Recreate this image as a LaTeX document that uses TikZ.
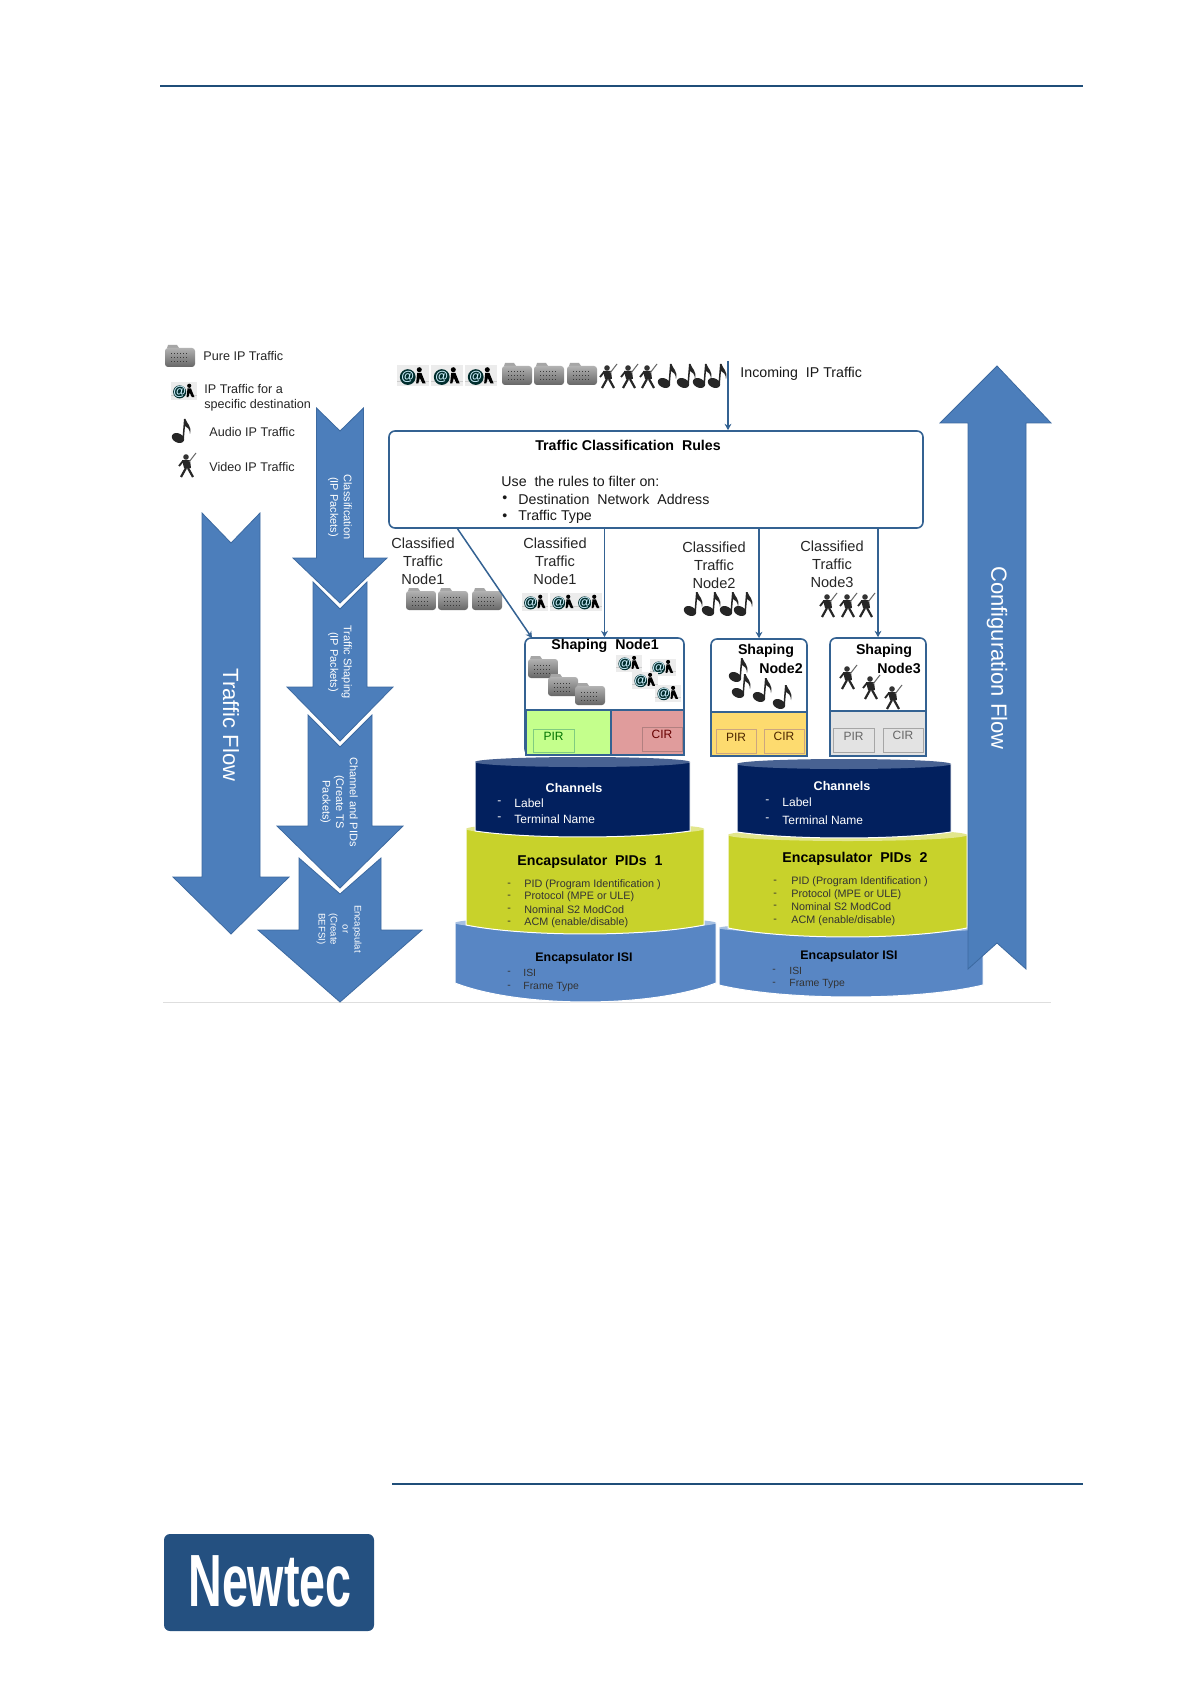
\documentclass[tikz,border=0pt]{standalone}
\usepackage{fontspec}
\setmainfont{Liberation Sans}
\newfontfamily\logofont[FakeStretch=0.63]{Liberation Sans}
\usepackage{xcolor}
\usetikzlibrary{arrows.meta,positioning,fit,calc}
\definecolor{primary}{RGB}{31,78,121}
\definecolor{boxline}{RGB}{52,98,146}
\definecolor{flowblue}{RGB}{76,126,187}
\definecolor{flowedge}{RGB}{60,105,160}
\definecolor{navy}{RGB}{2,32,94}
\definecolor{navycap}{RGB}{72,98,146}
\definecolor{pidgreen}{RGB}{200,210,43}
\definecolor{pidcap}{RGB}{226,230,140}
\definecolor{isiblue}{RGB}{88,134,196}
\definecolor{isicap}{RGB}{166,192,226}
\definecolor{logoblue}{RGB}{36,80,128}
\definecolor{grayline}{RGB}{222,222,222}
\tikzset{
  flowarrow/.style={fill=flowblue, draw=flowedge, line width=0.4pt, line join=miter},
  conn/.style={-{Stealth[length=3.2pt,width=3.4pt]}, color=boxline, line width=0.75pt},
  rulebox/.style={rectangle, rounded corners=3pt, draw=boxline, line width=0.8pt,
                  fill=white, inner sep=0pt},
  ratebox/.style={rectangle, inner sep=0pt, line width=0.3pt,
                  font={\fontsize{6}{7}\selectfont}},
  legendtxt/.style={anchor=west, inner sep=0pt, align=left, text=black!85,
                    font={\fontsize{6.3}{7.4}\selectfont}},
  bodytxt/.style={anchor=west, inner sep=0pt, text=black!90,
                  font={\fontsize{7.1}{9}\selectfont}},
  headtxt/.style={inner sep=0pt, font={\fontsize{7.1}{9}\selectfont\bfseries}},
  classtxt/.style={inner sep=0pt, align=center, text=black!85,
                   font={\fontsize{7.3}{9}\selectfont}},
  flowtxt/.style={inner sep=0pt, rotate=-90, align=center, text=white,
                  font={\fontsize{5.5}{6.8}\selectfont}},
  bigflowtxt/.style={inner sep=0pt, rotate=-90, text=white,
                     font={\fontsize{11}{13}\selectfont}},
  chantxt/.style={anchor=west, inner sep=0pt, text=white, font={\fontsize{6}{7}\selectfont}},
  pidtxt/.style={anchor=west, inner sep=0pt, text=black!80, font={\fontsize{5.4}{6.4}\selectfont}},
  isitxt/.style={anchor=west, inner sep=0pt, text=black!80, font={\fontsize{5.2}{6.4}\selectfont}},
  foldericon/.pic={
    \fill[gray!70] (-13,-8) -- (-12,-11) -- (-3,-11) -- (-1,-8) -- cycle;
    \shade[top color=gray!60, bottom color=gray!80!black, rounded corners=1.5pt]
      (-15,-8) rectangle (15,11);
    \foreach \ly in {-2,2,6}
      \draw[gray!45!black, densely dotted, line width=0.5pt] (-9,\ly) -- (9,\ly);
  },
  ipicon/.pic={
    \fill[gray!15] (-15,-10) rectangle (15,10);
    \draw[gray!40, line width=0.4pt] (-15,5) -- (15,5);
    \fill[black!65!teal] (-5,1) circle (7.5);
    \node[inner sep=0pt, text=white!80!cyan, font={\fontsize{6.5}{7}\selectfont\bfseries}] (atsign) at (-5,1) {@};
    \fill[black] (6,-6) circle (2.4);
    \fill[black] (4,-3) -- (8,-3) -- (12,7) -- (9,7) -- (6.5,2) -- (5,7) -- (3,7) -- cycle;
  },
  noteicon/.pic={
    \fill[black!85, rotate around={-25:(-4,7)}] (-4,7) ellipse (6.5 and 4.6);
    \fill[black!85] (0.5,7) -- (2,-12) -- (3.5,-12) .. controls (5,-7) and (10,-5) .. (8,3)
      .. controls (8,-2) and (5,-4) .. (3,-5) -- (2,7) -- cycle;
  },
  videoicon/.pic={
    \fill[black!80] (-1,-8) circle (2.8);
    \fill[black!85] (-5,-5) -- (3,-5) -- (4,3) -- (-3,3) -- cycle;
    \draw[black!85, line width=1.1pt] (-1,3) -- (-6,12);
    \draw[black!85, line width=1.1pt] (1,3) -- (6,12);
    \draw[black!60, line width=0.5pt] (2,-3) -- (9,-12);
    \draw[black!85, line width=0.9pt] (-4,-4) -- (-8,1);
  },
}
% x, half shaft, half head, top, notch, neck, tip
\newcommand{\flowdown}[7]{
  \draw[flowarrow] ({#1-#2},#4) -- (#1,#5) -- ({#1+#2},#4) -- ({#1+#2},#6) -- ({#1+#3},#6)
    -- (#1,#7) -- ({#1-#3},#6) -- ({#1-#2},#6) -- cycle;
}
% left, right, cap centre, cap radius, side bottom, bulge, side colour, cap colour
\newcommand{\disk}[8]{
  \draw[fill=#7, draw=white, line width=0.5pt] (#1,#3) -- (#1,#5)
    .. controls ({#1+0.25*(#2-#1)},{#5+1.33*#6}) and ({#2-0.25*(#2-#1)},{#5+1.33*#6}) .. (#2,#5)
    -- (#2,#3) -- cycle;
  \fill[#8] ({0.5*(#1+#2)},#3) ellipse ({0.5*(#2-#1)} and #4);
}
\begin{document}
\begin{tikzpicture}[x=0.5pt,y=-0.5pt]
  \useasboundingbox (0,0) rectangle (1190,1684);
  \fill[white] (0,0) rectangle (1190,1684);
  \coordinate (rulestart) at (160,86);
  \coordinate (ruleend) at (1083,86);
  \draw[primary, line width=0.8pt] (rulestart) -- (ruleend);
  \coordinate (footstart) at (392,1484);
  \coordinate (footend) at (1083,1484);
  \draw[primary, line width=0.8pt] (footstart) -- (footend);
  \coordinate (basestart) at (163,1002);
  \coordinate (baseend) at (1051,1002);
  \draw[grayline, line width=0.5pt] (basestart) -- (baseend);
  % legend
  \pic at (180,356) {foldericon};
  \node[legendtxt] (purelbl) at (203,356) {Pure IP Traffic};
  \pic[scale=0.87] at (184,391) {ipicon};
  \node[legendtxt] (destlbl) at (204,398) {IP Traffic for a\\specific destination};
  \pic at (182,431) {noteicon};
  \node[legendtxt] (audiolbl) at (209,432) {Audio IP Traffic};
  \pic at (187,465) {videoicon};
  \node[legendtxt] (videolbl) at (209,467) {Video IP Traffic};
  % flow arrows
  \flowdown{231}{29}{58}{513}{543}{877}{934}
  \flowdown{340}{41}{82}{858}{894}{930}{1002}
  \flowdown{340}{32}{63}{715}{747}{826}{888}
  \flowdown{340}{27}{53}{582}{609}{687}{741}
  \flowdown{340}{23.5}{47}{408}{431}{558}{603}
  \node[bigflowtxt] (trafficflow) at (231,725) {Traffic Flow};
  \node[flowtxt] (classflow) at (340,507) {Classification\\(IP Packets)};
  \node[flowtxt] (shapeflow) at (340,662) {Traffic Shaping\\(IP Packets)};
  \node[flowtxt] (chanflow) at (339,802) {Channel and PIDs\\(Create TS\\Packets)};
  \node[flowtxt, font={\fontsize{4.8}{6}\selectfont}] (encflow) at (339,929) {Encapsulat\\or\\(Create\\BEFSI)};
  % disks
  \disk{455}{716}{923}{6}{983}{19}{isiblue}{isicap}
  \disk{466}{704}{829}{6}{925}{9}{pidgreen}{pidcap}
  \disk{475}{690}{762}{5}{831}{6}{navy}{navycap}
  \disk{719}{983}{928}{5}{985}{12}{isiblue}{isicap}
  \disk{728}{967}{835}{6}{928}{9}{pidgreen}{pidcap}
  \disk{737}{951}{764}{5}{832}{6}{navy}{navycap}
  % configuration arrow
  \draw[flowarrow] (968,969) -- (997,943) -- (1026,969) -- (1026,423) -- (1051,423) -- (997,366)
    -- (940,423) -- (968,423) -- cycle;
  \node[bigflowtxt] (configflow) at (997,658) {Configuration Flow};
  % incoming traffic
  \foreach \x in {413,447,481} \pic[scale=1.05] at (\x,376) {ipicon};
  \foreach \x in {517,549,582} \pic at (\x,374) {foldericon};
  \foreach \x in {608,629,648} \pic at (\x,376) {videoicon};
  \foreach \x in {668,687,703,718} \pic at (\x,376) {noteicon};
  \node[bodytxt] (incoming) at (740,374) {Incoming~ IP Traffic};
  % classification rules
  \node[rulebox, fit={(389,431) (923,528)}] (rules) {};
  \coordinate (incomingtop) at (728,361);
  \draw[conn] (incomingtop) -- (rules.north -| incomingtop);
  \node[headtxt] (rulestitle) at (628,445) {Traffic Classification~ Rules};
  \node[bodytxt] (rulesuse) at (501,481) {Use~ the rules to filter on:};
  \node[bodytxt] (bulleta) at (502,499) {•};
  \node[bodytxt] (ruledest) at (518,499) {Destination~ Network~ Address};
  \node[bodytxt] (bulletb) at (502,517) {•};
  \node[bodytxt] (ruletype) at (518,517) {Traffic Type};
  % classified traffic
  \node[classtxt] (classa) at (423,561) {Classified\\Traffic\\Node1};
  \node[classtxt] (classb) at (555,561) {Classified\\Traffic\\Node1};
  \node[classtxt] (classc) at (714,565) {Classified\\Traffic\\Node2};
  \node[classtxt] (classd) at (832,564) {Classified\\Traffic\\Node3};
  \foreach \x in {421,453,487} \pic at (\x,599) {foldericon};
  \foreach \x in {535,563,589} \pic[scale=0.87] at (\x,602) {ipicon};
  \foreach \x in {694,712,730,744} \pic at (\x,604) {noteicon};
  \foreach \x in {828,848,866} \pic at (\x,605) {videoicon};
  % shaping node 1
  \node[rulebox, fit={(525,638) (684,755)}] (sna) {};
  \draw[boxline, line width=0.8pt, fill=green!35!lime!45] (526,710) rectangle (611,755);
  \draw[boxline, line width=0.8pt, fill=red!45!pink!65!gray!70] (611,710) rectangle (684,755);
  \node[ratebox, draw=green!60!black!50, text=green!45!black, fit={(533,729) (574,752)}] (pira) {PIR};
  \node[ratebox, draw=red!40!black!50, text=red!40!black, fit={(642,727) (682,751)}] (cira) {CIR};
  \node[headtxt] (snatitle) at (605,646) {Shaping~ Node1};
  \foreach \x/\y in {543/667,563/685,590/694} \pic at (\x,\y) {foldericon};
  \foreach \x/\y in {629/663,663/667,645/680,668/693} \pic[scale=0.85] at (\x,\y) {ipicon};
  % shaping node 2
  \node[rulebox, fit={(711,639) (807,756)}] (snb) {};
  \draw[boxline, line width=0.8pt, fill=yellow!55!orange!55] (711,712) rectangle (807,756);
  \node[ratebox, draw=orange!60!black!50, text=orange!30!black, fit={(716,729) (756,753)}] (pirb) {PIR};
  \node[ratebox, draw=orange!60!black!50, text=orange!30!black, fit={(764,729) (804,753)}] (cirb) {CIR};
  \node[headtxt] (snbtitle) at (766,651) {Shaping};
  \node[headtxt] (snbnode) at (781,668) {Node2};
  \foreach \x/\y in {739/670,742/686,763/690,783/697} \pic at (\x,\y) {noteicon};
  % shaping node 3
  \node[rulebox, fit={(830,638) (926,756)}] (snc) {};
  \draw[boxline, line width=0.8pt, fill=gray!22] (830,711) rectangle (926,756);
  \node[ratebox, draw=gray!70, text=black!60, fit={(833,728) (874,752)}] (pirc) {PIR};
  \node[ratebox, draw=gray!70, text=black!60, fit={(883,728) (923,752)}] (circ) {CIR};
  \node[headtxt] (snctitle) at (884,651) {Shaping};
  \node[headtxt] (sncnode) at (899,668) {Node3};
  \foreach \x/\y in {848/677,871/687,893/697} \pic at (\x,\y) {videoicon};
  % rules to shaping
  \coordinate (rulesleft) at (457,528);
  \coordinate (snacorner) at (532,638);
  \draw[conn] (rulesleft) -- (snacorner);
  \draw[conn] (rules.south -| sna.north) -- (sna.north);
  \draw[conn] (rules.south -| snb.north) -- (snb.north);
  \draw[conn] (rules.south -| snc.north) -- (snc.north);
  % disk texts, left stack
  \node[headtxt, text=white, font={\fontsize{6.3}{7}\selectfont\bfseries}] (chana) at (574,788) {Channels};
  \foreach \y/\t [count=\i] in {803/Label,819/Terminal Name} {
    \node[chantxt] (chanadash\i) at (497,\y) {-};
    \node[chantxt] (chanarow\i) at (514,\y) {\t};
  }
  \node[headtxt] (pida) at (590,862) {Encapsulator~ PIDs~ 1};
  \foreach \y/\t [count=\i] in {885/{PID (Program Identification )},897/{Protocol (MPE or ULE)},910/{Nominal S2 ModCod},923/{ACM (enable/disable)}} {
    \node[pidtxt] (pidadash\i) at (507,\y) {-};
    \node[pidtxt] (pidarow\i) at (524,\y) {\t};
  }
  \node[headtxt, font={\fontsize{6.2}{7}\selectfont\bfseries}] (isia) at (584,958) {Encapsulator ISI};
  \foreach \y/\t [count=\i] in {973/ISI,987/Frame Type} {
    \node[isitxt] (isiadash\i) at (507,\y) {-};
    \node[isitxt] (isiarow\i) at (523,\y) {\t};
  }
  % disk texts, right stack
  \node[headtxt, text=white, font={\fontsize{6.3}{7}\selectfont\bfseries}] (chanb) at (842,786) {Channels};
  \foreach \y/\t [count=\i] in {802/Label,820/Terminal Name} {
    \node[chantxt] (chanbdash\i) at (765,\y) {-};
    \node[chantxt] (chanbrow\i) at (782,\y) {\t};
  }
  \node[headtxt] (pidb) at (855,859) {Encapsulator~ PIDs~ 2};
  \foreach \y/\t [count=\i] in {882/{PID (Program Identification )},895/{Protocol (MPE or ULE)},907/{Nominal S2 ModCod},921/{ACM (enable/disable)}} {
    \node[pidtxt] (pidbdash\i) at (773,\y) {-};
    \node[pidtxt] (pidbrow\i) at (791,\y) {\t};
  }
  \node[headtxt, font={\fontsize{6.2}{7}\selectfont\bfseries}] (isib) at (849,956) {Encapsulator ISI};
  \foreach \y/\t [count=\i] in {971/ISI,984/Frame Type} {
    \node[isitxt] (isibdash\i) at (772,\y) {-};
    \node[isitxt] (isibrow\i) at (789,\y) {\t};
  }
  % logo
  \fill[logoblue, rounded corners=3pt] (164,1534) rectangle (374,1631);
  \node[inner sep=0pt, text=white, font={\logofont\fontsize{37}{40}\selectfont\bfseries}] (logotext) at (270,1581) {Newtec};
\end{tikzpicture}
\end{document}
